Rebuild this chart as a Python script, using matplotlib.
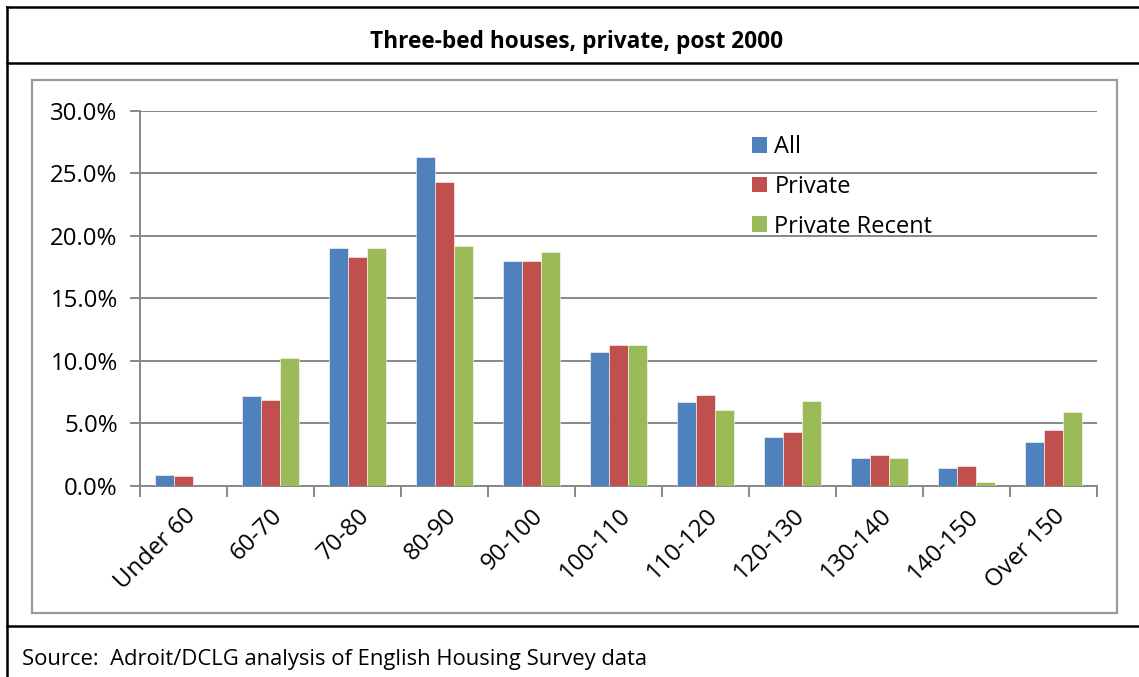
import numpy as np
import matplotlib
matplotlib.use("Agg")
import matplotlib.pyplot as plt
from matplotlib.lines import Line2D
from matplotlib.patches import Rectangle, Patch

# Data (percent of dwellings by floor area band, m2)
categories = ["Under 60", "60-70", "70-80", "80-90", "90-100", "100-110",
              "110-120", "120-130", "130-140", "140-150", "Over 150"]
all_share = [0.9, 7.2, 19.0, 26.3, 18.0, 10.7, 6.7, 3.9, 2.2, 1.4, 3.5]
private_share = [0.8, 6.9, 18.3, 24.3, 18.0, 11.3, 7.3, 4.3, 2.5, 1.6, 4.5]
recent_share = [0.0, 10.2, 19.0, 19.2, 18.7, 11.3, 6.1, 6.8, 2.2, 0.3, 5.9]
series_names = ["All", "Private", "Private Recent"]
colors = ["#4F81BD", "#C0504D", "#9BBB59"]

plt.rcParams["font.family"] = ["Open Sans", "DejaVu Sans"]

W, H = 1139, 677
fig = plt.figure(figsize=(W / 100, H / 100), dpi=100)

# axes placed in pixel terms
left, right, top, bottom = 140, 1097, 110.7, 486
ax = fig.add_axes([left / W, 1 - bottom / H, (right - left) / W, (bottom - top) / H])

x = np.arange(len(categories))
bw = 0.217
for i, (vals, c) in enumerate(zip([all_share, private_share, recent_share], colors)):
    ax.bar(x + (i - 1) * bw, vals, width=bw, color=c, edgecolor="white",
           linewidth=0.4, zorder=3)

ax.set_xlim(-0.5, len(categories) - 0.5)
ax.set_ylim(0, 30)
ax.set_yticks(np.arange(0, 31, 5))
ax.set_yticklabels([f"{v:.1f}%" for v in np.arange(0, 31, 5)], fontsize=17.3)
ax.yaxis.grid(True, color="#888888", linewidth=1.4, zorder=0)
ax.tick_params(axis="y", length=7, width=1.4, color="#888888", pad=9)

ax.set_xticks(x)
ax.set_xticklabels(categories, rotation=45, ha="right", va="top",
                   rotation_mode="anchor", fontsize=17.3)
ax.tick_params(axis="x", which="major", length=0, pad=13)
ax.set_xticks(np.arange(-0.5, len(categories)), minor=True)
ax.tick_params(axis="x", which="minor", length=8, width=1.4, color="#888888")

for s in ["top", "right"]:
    ax.spines[s].set_visible(False)
for s in ["left", "bottom"]:
    ax.spines[s].set_color("#888888")
    ax.spines[s].set_linewidth(1.4)

handles = [Patch(facecolor=c, edgecolor="none") for c in colors]
leg = fig.legend(handles, series_names, loc="upper left",
                 bbox_to_anchor=(752 / W, 1 - 135 / H), frameon=False,
                 fontsize=17, handlelength=0.65, handleheight=0.65,
                 handletextpad=0.3, labelspacing=0.67, borderpad=0,
                 borderaxespad=0)

# chart box
fig.patches.append(Rectangle((31.5 / W, 1 - 613 / H), (1117 - 31.5) / W, (613 - 80) / H,
                             transform=fig.transFigure, fill=False,
                             edgecolor="#999999", linewidth=1.6))

# table frame lines
lk = dict(color="black", linewidth=1.8, transform=fig.transFigure)
fig.add_artist(Line2D([7 / W, 1], [1 - 6.7 / H] * 2, **lk))
fig.add_artist(Line2D([7 / W, 1], [1 - 63 / H] * 2, **lk))
fig.add_artist(Line2D([7 / W, 1], [1 - 626 / H] * 2, **lk))
fig.add_artist(Line2D([7 / W] * 2, [0, 1 - 6.7 / H], **lk))

fig.text(577 / W, 1 - 41.5 / H, "Three-bed houses, private, post 2000",
         ha="center", va="center", fontsize=16.3, fontweight="bold")
fig.text(22 / W, 1 - 660 / H, "Source:  Adroit/DCLG analysis of English Housing Survey data",
         ha="left", va="center", fontsize=15.8)

fig.savefig("out.png", dpi=100)
